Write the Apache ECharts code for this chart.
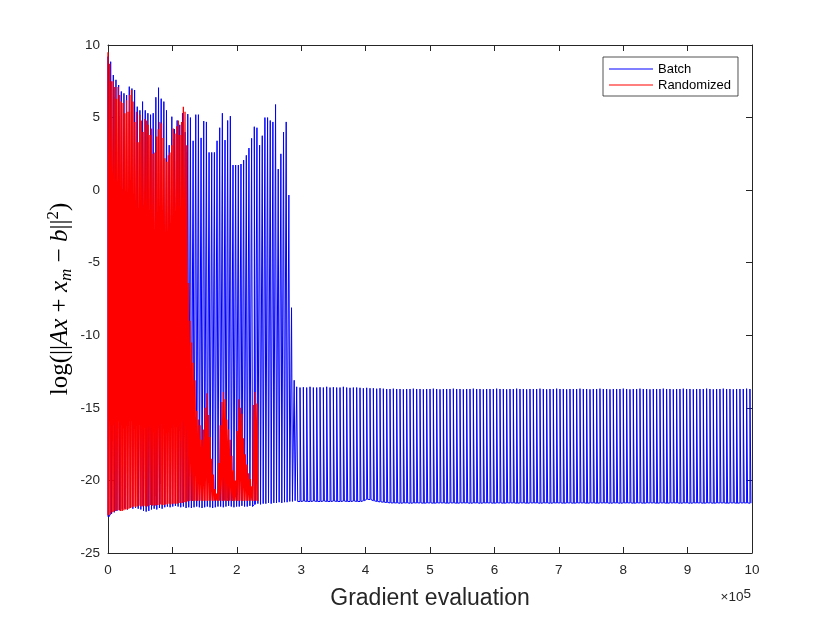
<!DOCTYPE html>
<html>
<head>
<meta charset="utf-8">
<script src="https://cdn.jsdelivr.net/npm/echarts@6/dist/echarts.min.js"></script>
<style>html,body{margin:0;background:#fff}#main{width:830px;height:623px}</style>
</head>
<body>
<div id="main"></div>
<script>
// tick labels
var xTickLabels = ['0','1','2','3','4','5','6','7','8','9','10'];
var seriesNames = ['Batch', 'Randomized'];

// Batch: early epochs (spike every 4130 evaluations, from 0)
var batchEarlyStep = 4130;
var batchEarlyTops = [
  9.2, 8.85, 7.93, 7.6, 7.24, 6.8, 6.67, 6.55, 7.13, 7.0,
  6.9, 5.75, 5.5, 6.1, 5.5, 5.3, 5.2, 5.3, 6.4, 7.06,
  6.3, 6.1, 5.5, 3.1, 5.06, 4.2, 4.8, 4.5, 5.3, 4.0,
  5.24, 5.0, 3.4, 5.2, 5.2, 3.6, 4.76, 4.7, 2.6, 2.6,
  2.6, 3.4, 4.3, 5.3, 3.45, 4.8, 5.1, 1.73, 1.73, 1.73,
  1.8, 2.07, 2.4, 2.9, 3.57, 4.37, 4.3, 3.1, 3.75, 5.0,
  5.0, 4.8, 4.7, 5.9, 1.45, 2.5, 4.0, 4.7, -0.34,
  -8.1, -13.1
];
var batchEarlyBottoms = [
  -22.5, -22.3, -22.2, -22.1, -22.05, -22.0, -21.95, -22.0, -21.9, -21.95,
  -21.9, -21.95, -22.0, -22.1, -22.15, -22.1, -22.0, -21.95, -22.0, -21.9,
  -21.95, -21.85, -21.8, -21.85, -21.8, -21.75, -21.8, -21.85, -21.8, -21.9,
  -21.85, -21.9, -21.85, -21.8, -21.85, -21.9, -21.85, -21.8, -21.85, -21.9,
  -21.85, -21.8, -21.8, -21.85, -21.8, -21.75, -21.8, -21.85, -21.8, -21.8,
  -21.75, -21.8, -21.8, -21.75, -21.8, -21.65, -21.6, -21.65, -21.6, -21.6,
  -21.55, -21.6, -21.55, -21.55, -21.5, -21.55, -21.5, -21.5, -21.45, -21.45,
  -21.4
];

// Batch: after the drop (spike every 5175 evaluations, from 293000)
var batchLateStart = 293000;
var batchLateStep = 5175;
var batchLateTops = [
  -13.55, -13.6, -13.58, -13.6, -13.55, -13.6, -13.6, -13.58, -13.6, -13.55,
  -13.6, -13.58, -13.6, -13.6, -13.55, -13.6, -13.62, -13.6, -13.6, -13.62,
  -13.65, -13.62, -13.65, -13.65, -13.68, -13.65, -13.68, -13.7, -13.7, -13.68,
  -13.7, -13.7, -13.72, -13.7, -13.7, -13.68, -13.7, -13.7, -13.72, -13.7,
  -13.7, -13.68, -13.7, -13.72, -13.7, -13.7, -13.7, -13.68, -13.7, -13.7,
  -13.72, -13.7, -13.7, -13.68, -13.7, -13.7, -13.72, -13.7, -13.7, -13.7,
  -13.68, -13.7, -13.7, -13.72, -13.7, -13.7, -13.68, -13.7, -13.7, -13.72,
  -13.7, -13.7, -13.7, -13.68, -13.7, -13.72, -13.7, -13.7, -13.68, -13.7,
  -13.7, -13.72, -13.7, -13.7, -13.7, -13.68, -13.7, -13.7, -13.72, -13.7,
  -13.7, -13.68, -13.7, -13.7, -13.72, -13.7, -13.7, -13.7, -13.68, -13.7,
  -13.72, -13.7, -13.7, -13.68, -13.7, -13.7, -13.72, -13.7, -13.7, -13.7,
  -13.68, -13.7, -13.7, -13.72, -13.7, -13.7, -13.68, -13.7, -13.7, -13.72,
  -13.7, -13.7, -13.7, -13.68, -13.7, -13.72, -13.7, -13.7, -13.68, -13.7,
  -13.7, -13.72, -13.7, -13.7, -13.7, -13.68, -13.7
];
var batchLateBottoms = [
  -21.45, -21.45, -21.42, -21.45, -21.45, -21.42, -21.45, -21.45, -21.42, -21.45,
  -21.45, -21.42, -21.45, -21.45, -21.42, -21.45, -21.45, -21.42, -21.45, -21.45,
  -21.4, -21.3, -21.32, -21.4, -21.45, -21.48, -21.5, -21.52, -21.55, -21.55,
  -21.55, -21.57, -21.55, -21.55, -21.57, -21.55, -21.55, -21.55, -21.57, -21.55,
  -21.55, -21.57, -21.55, -21.55, -21.55, -21.57, -21.55, -21.55, -21.57, -21.55,
  -21.55, -21.55, -21.57, -21.55, -21.55, -21.57, -21.55, -21.55, -21.55, -21.57,
  -21.55, -21.55, -21.57, -21.55, -21.55, -21.55, -21.57, -21.55, -21.55, -21.57,
  -21.55, -21.55, -21.55, -21.57, -21.55, -21.55, -21.57, -21.55, -21.55, -21.55,
  -21.57, -21.55, -21.55, -21.57, -21.55, -21.55, -21.55, -21.57, -21.55, -21.55,
  -21.57, -21.55, -21.55, -21.55, -21.57, -21.55, -21.55, -21.57, -21.55, -21.55,
  -21.55, -21.57, -21.55, -21.55, -21.57, -21.55, -21.55, -21.55, -21.57, -21.55,
  -21.55, -21.57, -21.55, -21.55, -21.55, -21.57, -21.55, -21.55, -21.57, -21.55,
  -21.55, -21.55, -21.57, -21.55, -21.55, -21.57, -21.55, -21.55, -21.55, -21.57,
  -21.55, -21.55, -21.57, -21.55, -21.55, -21.55, -21.57
];

// Randomized (spike every 2600 evaluations, from 0)
var randStep = 2600;
var randTops = [
  9.5, 8.7, 7.5, 7.5, 7.1, 6.3, 7.1, 6.55, 6.1, 6.0,
  5.3, 6.2, 5.4, 6.55, 6.9, 6.1, 4.7, 5.4, 3.3, 5.2,
  4.8, 4.0, 4.9, 4.8, 4.5, 3.8, 4.25, 2.5, 2.6, 3.7,
  4.2, 4.7, 4.6, 3.6, 2.2, 1.95, 2.4, 2.6, 3.1, 4.25,
  3.9, 4.4, 4.8, 3.8, 4.7, 5.75, 5.4, 3.1,
  -6.4, -9.0, -10.5, -11.9, -13.1, -15.2, -15.8, -16.2, -17.2, -16.5,
  -15.0, -14.0, -15.5, -17.0, -18.5, -19.6, -20.6, -20.9, -18.8, -16.2,
  -14.6, -13.9, -14.4, -15.8, -16.5, -17.2, -18.3, -19.3, -20.0, -16.6,
  -14.4, -15.0, -15.4, -17.1, -18.2, -18.9, -19.5, -19.9, -20.4, -14.8,
  -13.9, -14.7
];
var randBottoms = [
  -22.4, -22.3, -22.2, -22.15, -22.1, -22.05, -22.05, -22.1, -22.1, -22.05,
  -22.0, -22.0, -21.95, -21.9, -21.85, -21.8, -21.85, -21.8, -21.75, -21.8,
  -21.8, -21.75, -21.8, -21.8, -21.75, -21.7, -21.75, -21.7, -21.75, -21.7,
  -21.7, -21.65, -21.7, -21.7, -21.65, -21.65, -21.6, -21.65, -21.6, -21.6,
  -21.6, -21.6, -21.55, -21.55, -21.55, -21.5, -21.5, -21.45,
  -21.42, -21.4, -21.42, -21.4, -21.4, -21.42, -21.4, -21.4, -21.42, -21.4,
  -21.4, -21.42, -21.4, -21.4, -21.42, -21.4, -21.4, -21.42, -21.4, -21.4,
  -21.42, -21.4, -21.4, -21.42, -21.4, -21.4, -21.42, -21.4, -21.4, -21.42,
  -21.4, -21.4, -21.42, -21.4, -21.4, -21.42, -21.4, -21.4, -21.42, -21.4,
  -21.4, -21.42
];

// each spike: up at x, flat top, down at x + width
function spikes(out, start, step, tops, bottoms, frac) {
  var w = step * frac;
  for (var i = 0; i < tops.length; i++) {
    var x = start + i * step;
    out.push([x, bottoms[i]], [x, tops[i]], [x + w, tops[i]], [x + w, bottoms[i]]);
  }
  return out;
}

var batchData = [];
spikes(batchData, 0, batchEarlyStep, batchEarlyTops, batchEarlyBottoms, 0.35);
spikes(batchData, batchLateStart, batchLateStep, batchLateTops, batchLateBottoms, 0.3);
var randData = spikes([], 0, randStep, randTops, randBottoms, 0.5);

var axisColor = '#262626';
function boxAxis(extra) {
  var a = {
    axisLine: { show: true, onZero: false, lineStyle: { color: axisColor, width: 1 } },
    axisTick: { show: true, inside: true, length: 6, lineStyle: { color: axisColor } },
    splitLine: { show: false }
  };
  for (var k in extra) a[k] = extra[k];
  return a;
}

var myChart = echarts.init(document.getElementById('main'));
var option = {
  animation: false,
  backgroundColor: '#fff',
  grid: { left: 108, top: 45, width: 644, height: 508 },
  legend: {
    data: seriesNames,
    orient: 'vertical',
    left: 603,
    top: 57,
    icon: 'rect',
    itemWidth: 44,
    itemHeight: 1,
    itemGap: 2,
    padding: [5, 7, 4, 6],
    borderColor: axisColor,
    borderWidth: 0.8,
    backgroundColor: '#fff',
    textStyle: { fontFamily: 'Liberation Sans', fontSize: 13, color: '#000', lineHeight: 14 }
  },
  xAxis: [
    boxAxis({
      type: 'value', min: 0, max: 1000000, interval: 100000, position: 'bottom',
      axisLabel: {
        margin: 10, color: axisColor, fontFamily: 'Liberation Sans', fontSize: 13.5,
        formatter: function (v) { return xTickLabels[Math.round(v / 100000)]; }
      }
    }),
    boxAxis({
      type: 'value', min: 0, max: 1000000, interval: 100000, position: 'top',
      axisLabel: { show: false }
    })
  ],
  yAxis: [
    boxAxis({
      type: 'value', min: -25, max: 10, interval: 5, position: 'left',
      axisLabel: { margin: 8, color: axisColor, fontFamily: 'Liberation Sans', fontSize: 13.5 }
    }),
    boxAxis({
      type: 'value', min: -25, max: 10, interval: 5, position: 'right',
      axisLabel: { show: false }
    })
  ],
  graphic: [{
    type: 'text', x: 430, y: 599,
    style: { text: 'Gradient evaluation', fontFamily: 'Liberation Sans', fontSize: 23, fill: axisColor, align: 'center', verticalAlign: 'middle' }
  }, {
    type: 'text', x: 751, y: 597,
    style: {
      text: '{n|×10}{s|5}', align: 'right', verticalAlign: 'middle',
      rich: {
        n: { fontFamily: 'Liberation Sans', fontSize: 13.5, fill: axisColor, lineHeight: 20 },
        s: { fontFamily: 'Liberation Sans', fontSize: 13.5, fill: axisColor, lineHeight: 10, verticalAlign: 'top' }
      }
    }
  }, {
    type: 'text', x: 60, y: 299, rotation: Math.PI / 2,
    style: {
      text: '{n|log(||}{i|Ax}{n| + }{i|x}{s|m}{n| − }{i|b}{n|||}{p|2}{n|)}',
      align: 'center', verticalAlign: 'middle',
      rich: {
        n: { fontFamily: 'Liberation Serif', fontSize: 25, fill: '#000', lineHeight: 30 },
        i: { fontFamily: 'Liberation Serif', fontStyle: 'italic', fontSize: 25, fill: '#000', lineHeight: 30 },
        s: { fontFamily: 'Liberation Serif', fontStyle: 'italic', fontSize: 17, fill: '#000', lineHeight: 14, verticalAlign: 'bottom' },
        p: { fontFamily: 'Liberation Serif', fontSize: 17, fill: '#000', lineHeight: 14, verticalAlign: 'top' }
      }
    }
  }],
  series: [{
    name: seriesNames[0],
    type: 'line',
    data: batchData,
    showSymbol: false,
    symbol: 'none',
    color: '#0000ff',
    lineStyle: { color: '#0000ff', width: 1 }
  }, {
    name: seriesNames[1],
    type: 'line',
    data: randData,
    showSymbol: false,
    symbol: 'none',
    color: '#ff0000',
    lineStyle: { color: '#ff0000', width: 1.3 }
  }]
};
myChart.setOption(option);
</script>
</body>
</html>
